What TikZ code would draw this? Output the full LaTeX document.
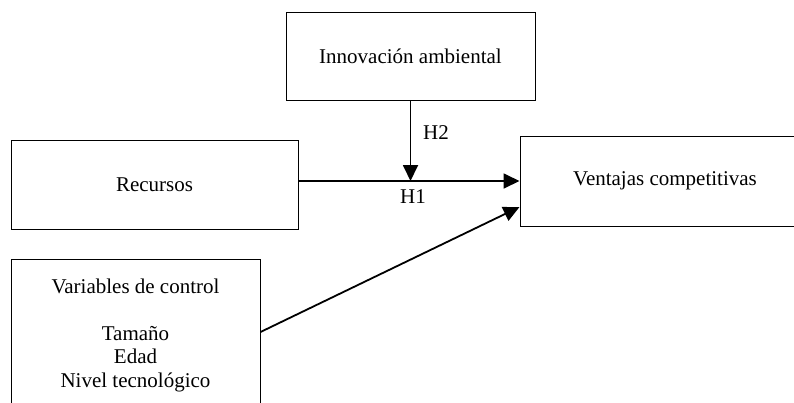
\documentclass[tikz,border=0pt]{standalone}
\usepackage{fontspec}
\setmainfont{Liberation Serif}
\usetikzlibrary{arrows.meta,calc}
\begin{document}
\begin{tikzpicture}[x=1pt,y=-1pt,
  box/.style={draw,line width=1pt,inner sep=0pt,font=\fontsize{21}{23.5}\selectfont,align=center},
  conn/.style={line width=1.8pt,-{Triangle[length=16pt,width=15pt]}},
  lbl/.style={font=\fontsize{21}{23.5}\selectfont}]
\useasboundingbox (0,0) rectangle (794,402);
\clip (0,0) rectangle (794,402);
\node[box,minimum width=249pt,minimum height=88pt] (inn) at (410.5,56) {Innovación ambiental};
\node[box,minimum width=287pt,minimum height=89pt] (rec) at (154.5,184.5) {Recursos};
\node[box,minimum width=290pt,minimum height=90pt] (ven) at (665,181) {Ventajas competitivas};
\node[box,minimum width=249pt,minimum height=152pt] (var) at (135.5,335) {Variables de control\\[23.5pt]Tamaño\\Edad\\Nivel tecnológico};
\coordinate (vin) at ($(ven.west)+(0,26)$);
\draw[conn] (ven.west -| rec.east) -- (ven.west);
\draw[conn] (inn.south) -- (inn.south |- ven.west);
\draw[conn] (var.east |- 0,332) -- (vin);
\node[lbl] (h2) at (436,133) {H2};
\node[lbl] (h1) at (413,197) {H1};
\end{tikzpicture}
\end{document}
